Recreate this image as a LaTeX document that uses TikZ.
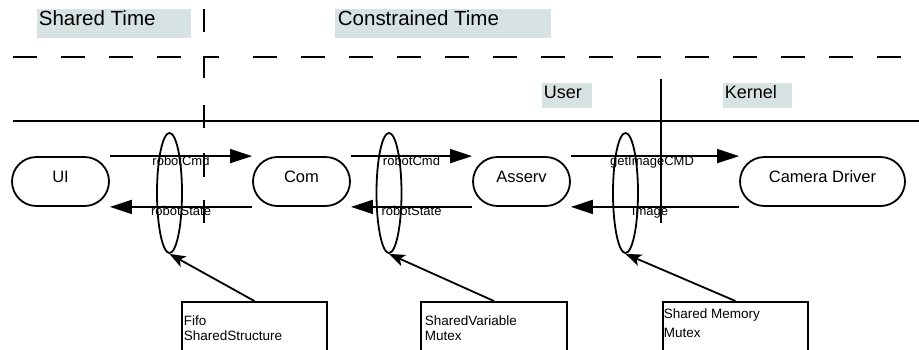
\documentclass[tikz,border=0pt]{standalone}
\usepackage{fontspec}
\setmainfont{Liberation Sans}
\usetikzlibrary{arrows.meta,shapes.geometric,calc}
\definecolor{tagbg}{RGB}{215,227,227}
\begin{document}
\begin{tikzpicture}[x=1pt,y=-1pt,line width=1.8pt,
  pill/.style={draw, rounded corners=24.5pt, minimum width=97pt, minimum height=49pt,
    inner sep=0pt, font=\fontsize{16.5}{18}\selectfont, text height=7pt, text depth=6pt},
  lab/.style={font=\fontsize{13}{15}\selectfont, anchor=base, yshift=-9pt, inner sep=0pt},
  flow/.style={-{Triangle[length=22pt,width=14pt]}},
  ptr/.style={-{Stealth[length=16pt,width=12pt,inset=4pt]}},
  ring/.style={draw, ellipse, minimum width=25pt, minimum height=120pt, inner sep=0pt},
  infobox/.style={draw, anchor=north west, minimum height=70pt, inner sep=0pt},
  boxtext/.style={font=\fontsize{13.5}{15}\selectfont, anchor=base west, inner sep=0pt},
  hdr/.style={font=\fontsize{20.5}{22}\selectfont, anchor=base west, inner sep=0pt},
  sub/.style={font=\fontsize{18}{20}\selectfont, anchor=base west, inner sep=0pt},
  dashline/.style={line width=2pt}
]
\useasboundingbox (0,0) rectangle (919,349);
\clip (0,0) rectangle (919,349);

% header tags
\fill[tagbg] (37,9) rectangle (191,38);
\node[hdr] (shared) at (38,25) {Shared Time};
\fill[tagbg] (335,9) rectangle (551,38);
\node[hdr] (constrained) at (337,25) {Constrained Time};
\fill[tagbg] (542,83) rectangle (592,108);
\node[sub] (user) at (543,98) {User};
\fill[tagbg] (723,83) rectangle (792,108);
\node[sub] (kernel) at (724,98) {Kernel};

% dashed separators
\draw[dashline, dash pattern=on 24pt off 24pt] (13,57) -- (181,57);
\draw[dashline, dash pattern=on 24pt off 24pt] (253,57) -- (901,57);
\draw[dashline] (204,78) -- (204,57) -- (219,57);
\foreach \a/\b in {9/32,105/128,153/177,200/223}
  \draw[dashline] (204,\a) -- (204,\b);

% solid separators
\draw (13,121) -- (919,121);
\draw (661,79) -- (661,223);

% components
\node[pill] (ui) at (60.5,181.5) {UI};
\node[pill] (com) at (301.5,181.5) {Com};
\node[pill] (asserv) at (521.5,181.5) {Asserv};
\node[pill, minimum width=165pt] (cam) at (822.5,181.5) {Camera Driver};

% flows
\draw[flow] (ui.east |- ui.north) -- node[lab]{robotCmd} (com.west |- com.north);
\draw[flow] (com.west |- com.south) -- node[lab]{robotState} (ui.east |- ui.south);
\draw[flow] (com.east |- com.north) -- node[lab]{robotCmd} (asserv.west |- asserv.north);
\draw[flow] (asserv.west |- asserv.south) -- node[lab]{robotState} (com.east |- com.south);
\draw[flow] (asserv.east |- asserv.north) -- node[lab, xshift=-3pt]{getImageCMD} (cam.west |- cam.north);
\draw[flow] (cam.west |- cam.south) -- node[lab, xshift=-5pt]{Image} (asserv.east |- asserv.south);

% channels
\node[ring] (e1) at (169.5,193) {};
\node[ring] (e2) at (389,193) {};
\node[ring] (e3) at (625.5,193) {};

% info boxes
\node[infobox, minimum width=145pt] (b1) at (181,301) {};
\node[infobox, minimum width=146pt] (b2) at (420,301) {};
\node[infobox, minimum width=145pt] (b3) at (662,301) {};
\node[boxtext] (b1a) at (183,325) {Fifo};
\node[boxtext] (b1b) at (183,340) {SharedStructure};
\node[boxtext] (b2a) at (424,325) {SharedVariable};
\node[boxtext] (b2b) at (424,340) {Mutex};
\node[boxtext] (b3a) at (663,318) {Shared Memory};
\node[boxtext] (b3b) at (663,337) {Mutex};

\draw[ptr] (b1.north) -- (e1.south);
\draw[ptr] (b2.north) -- (e2.south);
\draw[ptr] (b3.north) -- (e3.south);
\end{tikzpicture}
\end{document}
